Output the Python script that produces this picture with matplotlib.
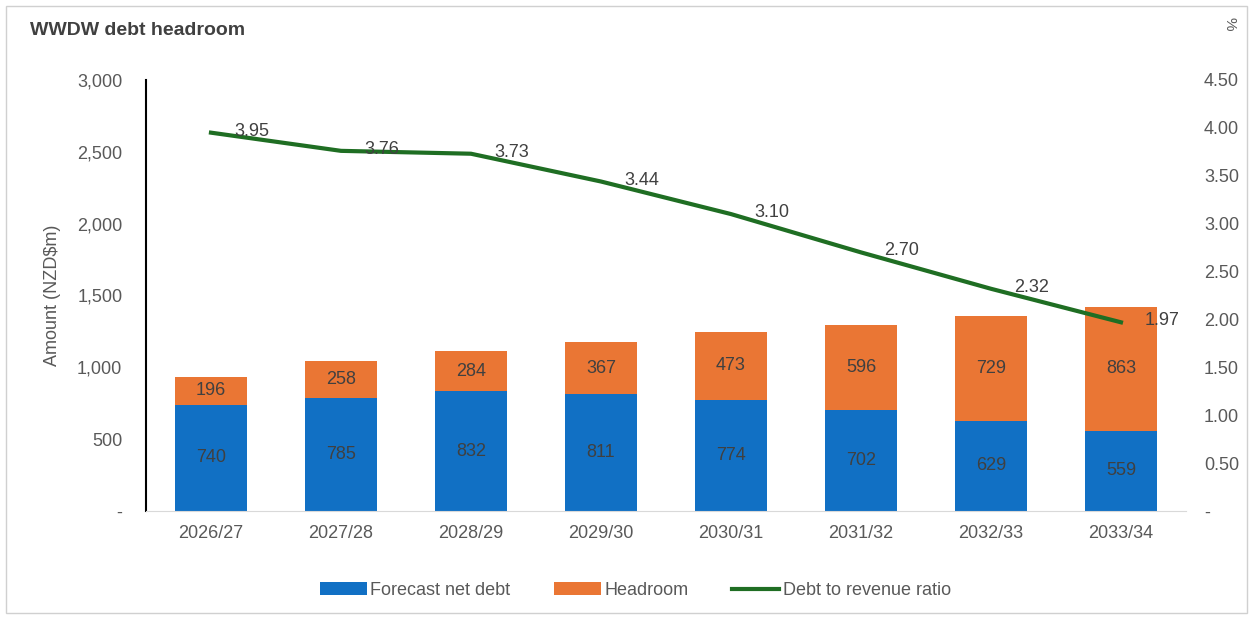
import numpy as np
import matplotlib.pyplot as plt
from matplotlib.ticker import FuncFormatter

years = ['2026/27', '2027/28', '2028/29', '2029/30', '2030/31', '2031/32', '2032/33', '2033/34']
net_debt = [740, 785, 832, 811, 774, 702, 629, 559]
headroom = [196, 258, 284, 367, 473, 596, 729, 863]
ratio = [3.95, 3.76, 3.73, 3.44, 3.10, 2.70, 2.32, 1.97]

blue = '#1170C4'
orange = '#EA7634'
green = '#1F6E23'
grey = '#595959'

plt.rcParams['font.family'] = ['Liberation Sans', 'DejaVu Sans']

fig = plt.figure(figsize=(12.53, 6.19), dpi=100)
ax = fig.add_axes([0.1165, 0.1745, 0.83, 0.6963])
ax2 = ax.twinx()

x = np.arange(len(years))
b1 = ax.bar(x, net_debt, width=0.56, color=blue, label='Forecast net debt')
b2 = ax.bar(x, headroom, width=0.56, bottom=net_debt, color=orange, label='Headroom')
for i in range(len(years)):
    ax.text(x[i], net_debt[i] / 2, str(net_debt[i]), ha='center', va='center',
            fontsize=13, color='#404040')
    ax.text(x[i], net_debt[i] + headroom[i] / 2, str(headroom[i]), ha='center',
            va='center', fontsize=13, color='#404040')

ln, = ax2.plot(x, ratio, color=green, lw=3, label='Debt to revenue ratio')
for i in range(len(years)):
    ax2.annotate(f'{ratio[i]:.2f}', (x[i], ratio[i]), xytext=(17, 1),
                 textcoords='offset points', ha='left', va='center',
                 fontsize=13, color='#404040')

ax.set_xlim(-0.5, len(years) - 0.5)
ax.set_ylim(0, 3000)
ax.set_yticks(np.arange(0, 3001, 500))
ax.yaxis.set_major_formatter(FuncFormatter(lambda v, p: '-' if v == 0 else f'{v:,.0f}'))
ax2.set_ylim(0, 4.5)
ax2.set_yticks(np.arange(0, 4.51, 0.5))
ax2.yaxis.set_major_formatter(FuncFormatter(lambda v, p: '-' if v == 0 else f'{v:.2f}'))

ax.set_xticks(x)
ax.set_xticklabels(years)
for a in (ax, ax2):
    a.tick_params(length=0, labelsize=13, labelcolor=grey)
    for s in a.spines.values():
        s.set_visible(False)
ax.tick_params(axis='y', pad=17)
ax2.tick_params(axis='y', pad=13)
ax.tick_params(axis='x', pad=10)
ax.spines['left'].set_visible(True)
ax.spines['left'].set_color('black')
ax.spines['left'].set_linewidth(1.5)
ax.spines['bottom'].set_visible(True)
ax.spines['bottom'].set_color('#D9D9D9')

ax.set_ylabel('Amount (NZD$m)', fontsize=13, color=grey)
ax.yaxis.set_label_coords(-0.082, 0.5)

fig.text(0.024, 0.95, 'WWDW debt headroom', fontsize=14, fontweight='bold',
         color='#404040', va='center')
fig.text(0.981, 0.962, '%', fontsize=11, color=grey, rotation=270,
         ha='center', va='center')

fig.legend(handles=[b1, b2, ln], loc='center', bbox_to_anchor=(0.507, 0.046),
           ncol=3, frameon=False, fontsize=13, labelcolor=grey,
           handlelength=2.6, handletextpad=0.2, columnspacing=2.4)

border = plt.Rectangle((0.005, 0.01), 0.99, 0.98, transform=fig.transFigure,
                       fill=False, edgecolor='#D0D0D0', lw=1)
fig.patches.append(border)

fig.savefig('out.png', dpi=100)
